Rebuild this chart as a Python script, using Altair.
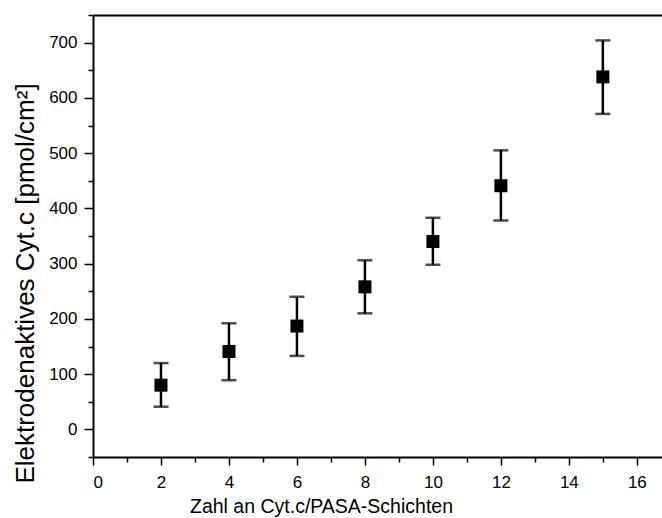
import altair as alt
import pandas as pd

layers_x = [2, 4, 6, 8, 10, 12, 15]
cytc = [80, 141, 187, 258, 340, 441, 638]
err_lo = [41, 89, 133, 210, 298, 378, 571]
err_hi = [120, 192, 240, 306, 383, 505, 704]

x_major = [0, 2, 4, 6, 8, 10, 12, 14, 16]
x_minor = [1, 3, 5, 7, 9, 11, 13, 15]
y_major = [0, 100, 200, 300, 400, 500, 600, 700]
y_minor = [-50, 50, 150, 250, 350, 450, 550, 650, 750]

df = pd.DataFrame({"x": layers_x, "y": cytc, "lo": err_lo, "hi": err_hi})

XDOM = [0, 16.74]
YDOM = [-50, 750]
FONT = "Liberation Sans"

xs = alt.Scale(domain=XDOM, nice=False, zero=False)
ys = alt.Scale(domain=YDOM, nice=False, zero=False)

x_axis_major = alt.Axis(
    values=x_major, orient="bottom", grid=False, format="d",
    tickSize=8, tickWidth=1.5, tickColor="black",
    domainWidth=2, domainColor="black",
    labelFontSize=17, labelFont=FONT, labelColor="black", labelPadding=9,
    title="Zahl an Cyt.c/PASA-Schichten", titleFont=FONT, titleFontSize=19.5,
    titleFontWeight="normal", titleColor="black",
    titleX=228, titleY=55, titleBaseline="alphabetic", titleAlign="center",
)
y_axis_major = alt.Axis(
    values=y_major, orient="left", grid=False, format="d",
    tickSize=9, tickWidth=1.5, tickColor="black",
    domainWidth=2, domainColor="black",
    labelFontSize=17, labelFont=FONT, labelColor="black", labelPadding=7,
    title="Elektrodenaktives Cyt.c [pmol/cm²]", titleFont=FONT, titleFontSize=26,
    titleFontWeight="normal", titleColor="black",
    titleX=-60, titleY=268, titleBaseline="alphabetic", titleAlign="center",
)
x_axis_minor = alt.Axis(
    values=x_minor, orient="bottom", grid=False, labels=False, domain=False,
    tickSize=5, tickWidth=1.5, tickColor="black", title=None,
)
y_axis_minor = alt.Axis(
    values=y_minor, orient="left", grid=False, labels=False, domain=False,
    tickSize=5, tickWidth=1.5, tickColor="black", title=None,
)
x_axis_top = alt.Axis(
    orient="top", grid=False, labels=False, ticks=False, domain=True,
    domainWidth=2, domainColor="black", title=None,
)

base = alt.Chart(df)

bars = base.mark_rule(color="black", strokeWidth=2.5).encode(
    x=alt.X("x:Q", scale=xs, axis=x_axis_major),
    y=alt.Y("lo:Q", scale=ys, axis=y_axis_major),
    y2="hi:Q",
)
cap_lo = base.mark_tick(color="black", orient="horizontal", size=15, thickness=2.5).encode(
    x=alt.X("x:Q", scale=xs, axis=x_axis_minor),
    y=alt.Y("lo:Q", scale=ys, axis=y_axis_minor),
)
cap_hi = base.mark_tick(color="black", orient="horizontal", size=15, thickness=2.5).encode(
    x=alt.X("x:Q", scale=xs, axis=None),
    y=alt.Y("hi:Q", scale=ys, axis=None),
)
pts = base.mark_square(color="black", size=169, opacity=1).encode(
    x=alt.X("x:Q", scale=xs, axis=x_axis_top),
    y=alt.Y("y:Q", scale=ys, axis=None),
)

chart = (
    alt.layer(bars, cap_lo, cap_hi, pts)
    .resolve_axis(x="independent", y="independent")
    .properties(
        width=569, height=442,
        autosize=alt.AutoSizeParams(type="none"),
        padding={"left": 93, "top": 15, "right": 0, "bottom": 61},
        background="white",
    )
    .configure_view(stroke=None)
)

chart.save("out.html", embed_options={"renderer": "svg", "actions": False})
